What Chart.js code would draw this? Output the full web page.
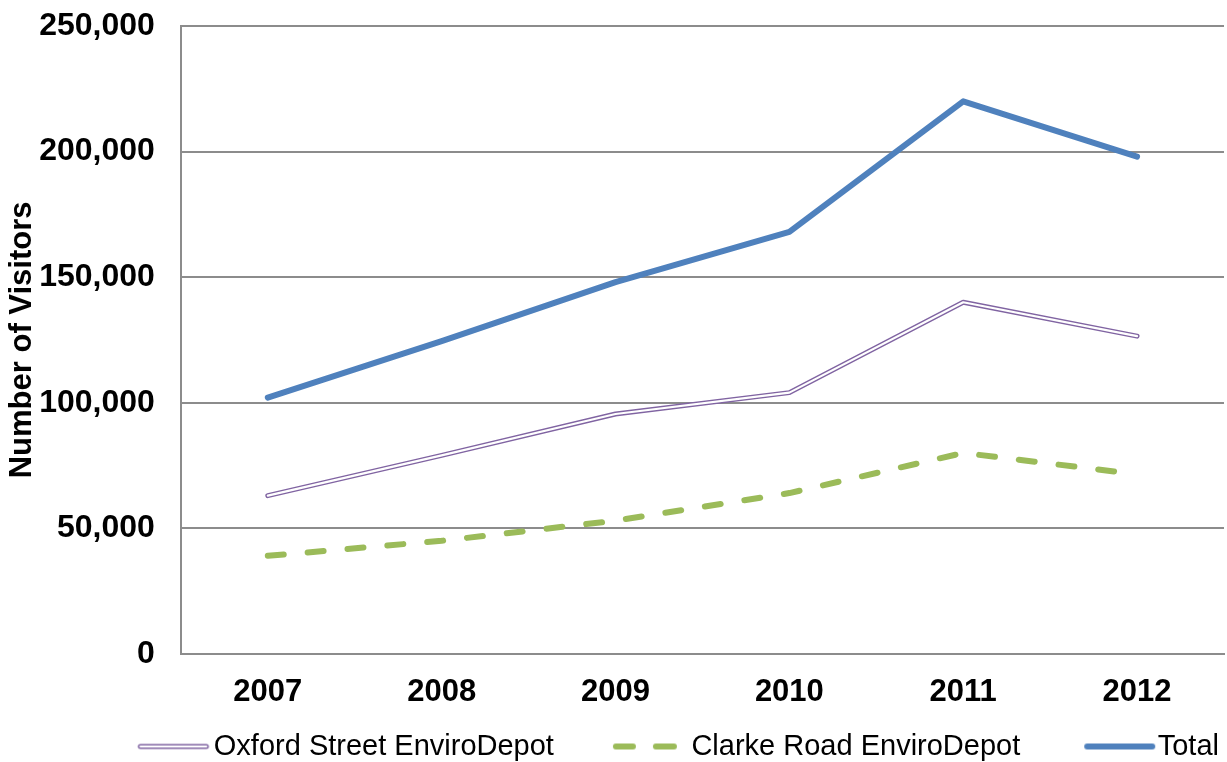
<!DOCTYPE html>
<html>
<head>
<meta charset="utf-8">
<script src="https://cdn.jsdelivr.net/npm/chart.js@4"></script>
<style>
  body { margin: 0; background: #fff; }
  #wrap { width: 1227px; height: 762px; }
</style>
</head>
<body>
<div id="wrap"><canvas id="visitors" width="1227" height="762"></canvas></div>
<script>
var years = ['2007', '2008', '2009', '2010', '2011', '2012'];
var oxford = [63000, 79000, 95500, 104000, 140000, 126500];
var clarke = [39000, 45000, 53000, 64000, 80000, 71500];
var total = [102000, 124500, 148000, 168000, 220000, 198000];

var PURPLE = '#8064A2';
var GREEN = '#9BBB59';
var BLUE = '#4F81BD';
var GRID = '#8C8C8C';
var FONT = "'Liberation Sans', Arial, sans-serif";

// legend symbols: wide canvases, the blank left part acts as the gap between items
var SYM_BOX = 118;
function legendSymbol(draw) {
    var c = document.createElement('canvas');
    c.width = 144;
    c.height = 10;
    var g = c.getContext('2d');
    g.lineCap = 'round';
    g.lineWidth = 6;
    draw(g);
    return c;
}
var oxfordSym = legendSymbol(function (g) {
    g.strokeStyle = PURPLE; g.lineWidth = 5;
    g.beginPath(); g.moveTo(72, 5); g.lineTo(138, 5); g.stroke();
    g.strokeStyle = '#fff'; g.lineWidth = 2.2;
    g.beginPath(); g.moveTo(72, 5); g.lineTo(138, 5); g.stroke();
});
var clarkeSym = legendSymbol(function (g) {
    g.strokeStyle = GREEN;
    g.beginPath(); g.moveTo(70, 5); g.lineTo(87, 5); g.moveTo(110, 5); g.lineTo(128, 5); g.stroke();
});
var totalSym = legendSymbol(function (g) {
    g.strokeStyle = BLUE;
    g.beginPath(); g.moveTo(75, 5); g.lineTo(140, 5); g.stroke();
});

var ctx = document.getElementById('visitors').getContext('2d');
var chart = new Chart(ctx, {
    type: 'line',
    data: {
        labels: years,
        datasets: [{
            label: 'Oxford Street EnviroDepot',
            data: oxford,
            borderColor: PURPLE,
            borderWidth: 5,
            pointStyle: oxfordSym,
            order: 3
        }, {
            // white core that turns the purple line into a double line
            label: 'oxford-core',
            data: oxford,
            borderColor: '#fff',
            borderWidth: 2.2,
            order: 2
        }, {
            label: 'Clarke Road EnviroDepot',
            data: clarke,
            borderColor: GREEN,
            borderWidth: 6,
            borderDash: [16, 24],
            pointStyle: clarkeSym,
            order: 4
        }, {
            label: 'Total',
            data: total,
            borderColor: BLUE,
            borderWidth: 6,
            pointStyle: totalSym,
            order: 1
        }]
    },
    options: {
        responsive: false,
        animation: false,
        events: [],
        elements: {
            point: { radius: 0, hoverRadius: 0 },
            line: { tension: 0, borderCapStyle: 'round', borderJoinStyle: 'round', fill: false }
        },
        layout: { padding: { top: 0, right: 3, left: 0, bottom: -9 } },
        scales: {
            x: {
                offset: true,
                grid: { display: false, drawTicks: false },
                border: { display: true, color: GRID, width: 2 },
                ticks: {
                    color: '#000',
                    padding: 20,
                    font: { family: FONT, size: 31, weight: 'bold' }
                },
                afterFit: function (scale) {
                    scale.height -= 4;
                }
            },
            y: {
                min: 0,
                max: 250000,
                grid: { color: GRID, lineWidth: 2, drawTicks: false },
                border: { display: true, color: GRID, width: 2 },
                ticks: {
                    stepSize: 50000,
                    color: '#000',
                    padding: 26,
                    font: { family: FONT, size: 32, weight: 'bold' }
                },
                title: {
                    display: true,
                    text: 'Number of Visitors',
                    color: '#000',
                    padding: { top: 4, bottom: 0 },
                    font: { family: FONT, size: 31, weight: 'bold' }
                },
                afterFit: function (scale) {
                    scale.width -= 28;
                    scale.paddingTop = 26;
                }
            }
        },
        plugins: {
            tooltip: { enabled: false },
            legend: {
                position: 'bottom',
                align: 'end',
                labels: {
                    usePointStyle: true,
                    pointStyleWidth: SYM_BOX,
                    padding: 5,
                    color: '#000',
                    font: { family: FONT, size: 29 },
                    filter: function (item) { return item.text !== 'oxford-core'; },
                    sort: function (a, b) { return a.datasetIndex - b.datasetIndex; }
                }
            }
        }
    }
});
</script>
</body>
</html>
